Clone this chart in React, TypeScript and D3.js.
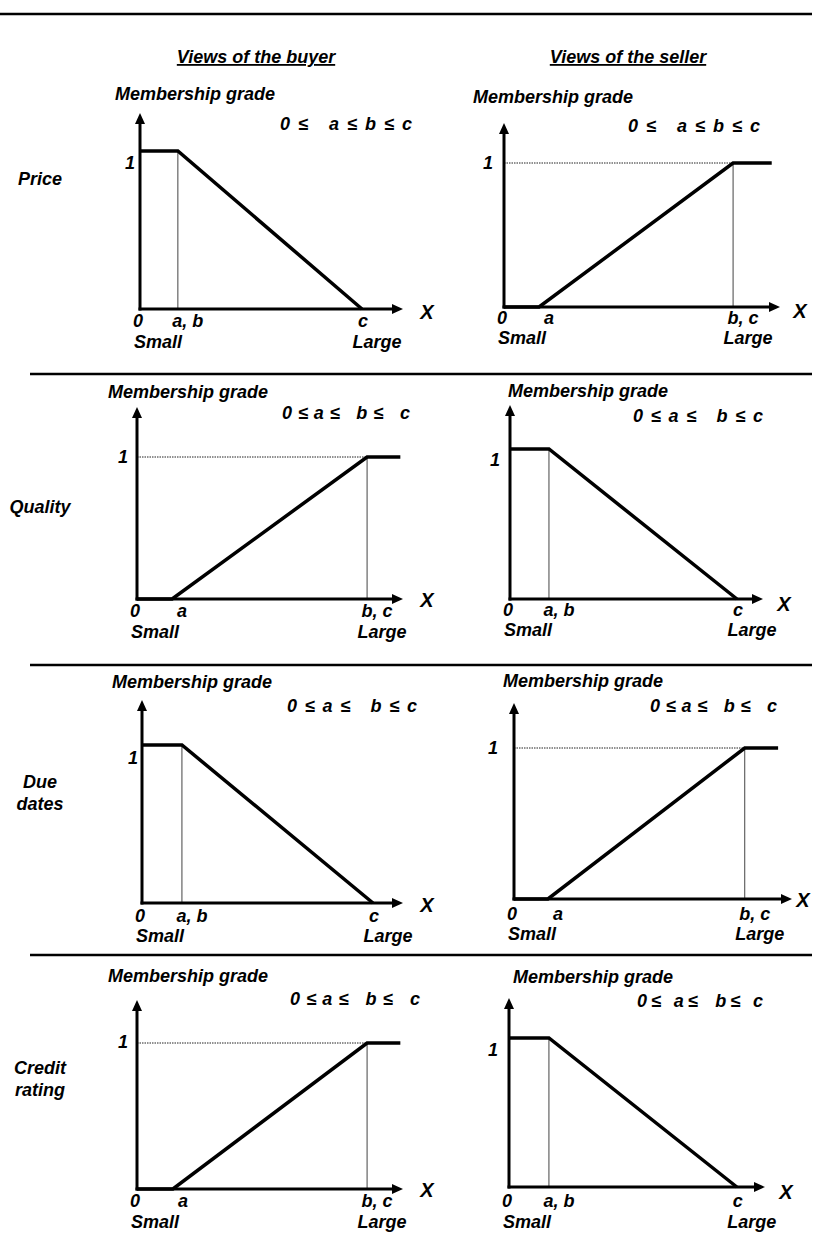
import React from "react";
import * as d3 from "d3";

// ---------- data ----------
const columnTitles = ["Views of the buyer", "Views of the seller"];
const rowNames = [["Price"], ["Quality"], ["Due", "dates"], ["Credit", "rating"]];
const yAxisTitle = "Membership grade";
const xAxisTitle = "X";
const oneLabel = "1";
const endLabels = ["Small", "Large"];
const constraintTexts = [
  ["0 ≤   a ≤ b ≤ c", "0 ≤   a ≤ b ≤ c"],
  ["0 ≤ a ≤   b ≤   c", "0 ≤ a ≤   b ≤ c"],
  ["0 ≤ a ≤   b ≤ c", "0 ≤ a ≤   b ≤   c"],
  ["0 ≤ a ≤   b ≤   c", "0 ≤   a ≤    b ≤   c"],
];
// "down": grade 1 up to a = b, falling to 0 at c; "up": grade 0 up to a, rising to 1 at b = c
const shapes = [
  ["down", "up"],
  ["up", "down"],
  ["down", "up"],
  ["up", "down"],
];
// breakpoints on a 0–100 scale (origin to arrow tip)
const pointA = [
  [14.4, 12.7],
  [13.2, 15.4],
  [15.3, 12.2],
  [13.5, 15.6],
];
const pointC = [
  [84.4, 83.0],
  [86.5, 89.7],
  [88.5, 83.0],
  [86.5, 89.0],
];
const plateauEnd = [
  [0, 97],
  [99, 0],
  [0, 95],
  [99, 0],
];
const downGrades = [1, 1, 0];
const upGrades = [0, 0, 1, 1];

// ---------- layout ----------
type Frame = {
  x0: number; x1: number; y0: number; y1: number; yTop: number;
  mgX: number; mgY: number; ruleX: number; ruleY: number; ruleW: number;
  tickDy: number; nameDy: number; oneX: number; oneY: number;
  xLabX: number; xLabY: number;
};
const frames: Frame[][] = [
  [
    { x0: 140, x1: 403, y0: 309, y1: 151, yTop: 113, mgX: 115, mgY: 100, ruleX: 280, ruleY: 130, ruleW: 132, tickDy: 18, nameDy: 39, oneX: 130, oneY: 163, xLabX: 427, xLabY: 312 },
    { x0: 504, x1: 780, y0: 307, y1: 163, yTop: 123, mgX: 473, mgY: 103, ruleX: 628, ruleY: 132, ruleW: 132, tickDy: 17, nameDy: 37, oneX: 488, oneY: 163, xLabX: 800, xLabY: 311 },
  ],
  [
    { x0: 137, x1: 403, y0: 599, y1: 457, yTop: 407, mgX: 108, mgY: 398, ruleX: 282, ruleY: 419, ruleW: 128, tickDy: 18, nameDy: 39, oneX: 123, oneY: 457, xLabX: 427, xLabY: 600 },
    { x0: 510, x1: 763, y0: 599, y1: 449, yTop: 405, mgX: 508, mgY: 397, ruleX: 633, ruleY: 422, ruleW: 130, tickDy: 17, nameDy: 37, oneX: 495, oneY: 460, xLabX: 784, xLabY: 604 },
  ],
  [
    { x0: 142, x1: 403, y0: 903, y1: 745, yTop: 700, mgX: 112, mgY: 688, ruleX: 287, ruleY: 712, ruleW: 130, tickDy: 19, nameDy: 39, oneX: 133, oneY: 758, xLabX: 427, xLabY: 905 },
    { x0: 514, x1: 792, y0: 899, y1: 748, yTop: 703, mgX: 503, mgY: 687, ruleX: 650, ruleY: 712, ruleW: 127, tickDy: 21, nameDy: 41, oneX: 493, oneY: 748, xLabX: 803, xLabY: 900 },
  ],
  [
    { x0: 137, x1: 403, y0: 1189, y1: 1043, yTop: 1000, mgX: 108, mgY: 982, ruleX: 290, ruleY: 1005, ruleW: 130, tickDy: 18, nameDy: 39, oneX: 123, oneY: 1042, xLabX: 427, xLabY: 1190 },
    { x0: 509, x1: 765, y0: 1187, y1: 1038, yTop: 998, mgX: 513, mgY: 983, ruleX: 637, ruleY: 1007, ruleW: 126, tickDy: 20, nameDy: 41, oneX: 493, oneY: 1050, xLabX: 786, xLabY: 1192 },
  ],
];
const columnTitleX = [256, 628];
const columnTitleY = 63;
const rowNameX = 40;
const rowNameY = [[185], [513], [788, 810], [1074, 1096]];
const separatorY = [374, 665, 955];

const FONT = "'Liberation Sans', Arial, Helvetica, sans-serif";
const textStyle: React.CSSProperties = {
  fontFamily: FONT,
  fontWeight: "bold",
  fontStyle: "italic",
  fontSize: 18,
  whiteSpace: "pre",
};

function Panel({ r, c }: { r: number; c: number }) {
  const f = frames[r][c];
  const shape = shapes[r][c];
  const x = d3.scaleLinear().domain([0, 100]).range([f.x0, f.x1]);
  const y = d3.scaleLinear().domain([0, 1]).range([f.y0, f.y1]);
  const a = pointA[r][c];
  const cc = pointC[r][c];
  const xs = shape === "down" ? [0, a, cc] : [0, a, cc, plateauEnd[r][c]];
  const gs = shape === "down" ? downGrades : upGrades;
  const pts: [number, number][] = xs.map((v, i) => [v, gs[i]]);
  const line = d3
    .line<[number, number]>()
    .x((d) => x(d[0]))
    .y((d) => y(d[1]));
  const guideX = shape === "down" ? a : cc;
  const arrowLen = 11;
  const arrowHalf = 5;
  const yTip = f.yTop;
  const xTip = x(100);
  const yArrow = `M${x(0)},${yTip} L${x(0) - arrowHalf},${yTip + arrowLen} L${x(0) + arrowHalf},${yTip + arrowLen} Z`;
  const xArrow = `M${xTip},${y(0)} L${xTip - arrowLen},${y(0) - arrowHalf} L${xTip - arrowLen},${y(0) + arrowHalf} Z`;

  const tickLabels =
    shape === "down"
      ? [
          { t: "0", v: 0, dx: -2 },
          { t: "a, b", v: a, dx: 10 },
          { t: "c", v: cc, dx: 1 },
        ]
      : [
          { t: "0", v: 0, dx: -2 },
          { t: "a", v: a, dx: 10 },
          { t: "b, c", v: cc, dx: 10 },
        ];

  return (
    <g>
      <text x={f.mgX} y={f.mgY} style={textStyle}>{yAxisTitle}</text>
      <text x={f.ruleX} y={f.ruleY} textLength={f.ruleW} lengthAdjust="spacing" style={textStyle}>{constraintTexts[r][c]}</text>
      {/* guide lines */}
      {shape === "up" && (
        <line x1={x(0)} x2={x(cc)} y1={y(1)} y2={y(1)} stroke="#222" strokeWidth={1} strokeDasharray="1.5,1" />
      )}
      <line x1={x(guideX)} x2={x(guideX)} y1={y(1)} y2={y(0)} stroke="#444" strokeWidth={1} />
      {/* axes */}
      <line x1={x(0)} x2={x(0)} y1={y(0) + 1.5} y2={yTip + arrowLen - 1} stroke="#000" strokeWidth={3} />
      <line x1={x(0) - 1.5} x2={xTip - arrowLen + 1} y1={y(0)} y2={y(0)} stroke="#000" strokeWidth={3} />
      <path d={yArrow} fill="#000" />
      <path d={xArrow} fill="#000" />
      {/* membership function */}
      <path d={line(pts) || ""} fill="none" stroke="#000" strokeWidth={3.5} strokeLinejoin="miter" />
      {/* labels */}
      <text x={f.oneX} y={f.oneY} dy="0.35em" textAnchor="middle" style={textStyle}>{oneLabel}</text>
      <text x={f.xLabX} y={f.xLabY} dy="0.35em" textAnchor="middle" style={{ ...textStyle, fontSize: 20 }}>{xAxisTitle}</text>
      {tickLabels.map((tl) => (
        <text key={tl.t} x={x(tl.v) + tl.dx} y={y(0) + f.tickDy} textAnchor="middle" style={textStyle}>{tl.t}</text>
      ))}
      <text x={x(0) + 18} y={y(0) + f.nameDy} textAnchor="middle" style={textStyle}>{endLabels[0]}</text>
      <text x={x(cc) + 15} y={y(0) + f.nameDy} textAnchor="middle" style={textStyle}>{endLabels[1]}</text>
    </g>
  );
}

export default function App() {
  return (
    <svg
      width={833}
      height={1234}
      viewBox="0 0 833 1234"
      style={{ position: "absolute", left: 0, top: 0, background: "#fff" }}
    >
      <rect width={833} height={1234} fill="#fff" />
      <line x1={0} x2={812} y1={14} y2={14} stroke="#000" strokeWidth={2.5} />
      {separatorY.map((sy) => (
        <line key={sy} x1={30} x2={812} y1={sy} y2={sy} stroke="#000" strokeWidth={2.5} />
      ))}
      {columnTitles.map((t, i) => (
        <text key={t} x={columnTitleX[i]} y={columnTitleY} textAnchor="middle" style={{ ...textStyle, textDecoration: "underline" }}>{t}</text>
      ))}
      {rowNames.map((lines, r) =>
        lines.map((t, k) => (
          <text key={t} x={rowNameX} y={rowNameY[r][k]} textAnchor="middle" style={textStyle}>{t}</text>
        ))
      )}
      {rowNames.map((_, r) => [0, 1].map((c) => <Panel key={`${r}-${c}`} r={r} c={c} />))}
    </svg>
  );
}
